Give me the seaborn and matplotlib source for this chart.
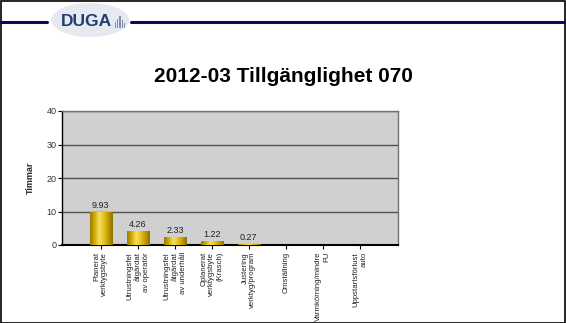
import matplotlib
matplotlib.use("Agg")
import matplotlib.pyplot as plt
import seaborn as sns
import pandas as pd
import numpy as np
from matplotlib.patches import Rectangle, Ellipse
from matplotlib.colors import LinearSegmentedColormap

categories = ["Planerat\nverktygsbyte",
              "Utrustningsfel\nåtgärdat\nav operatör",
              "Utrustningsfel\nåtgärdat\nav underhåll",
              "Oplanerat\nverktygsbyte\n(Krasch)",
              "Justering\nverktyg/program",
              "Omställning",
              "Varmkörning/mindre\nFU",
              "Uppstartsförlust\nauto"]
hours = [9.93, 4.26, 2.33, 1.22, 0.27, 0, 0, 0]
yticks = [0, 10, 20, 30, 40]
title = "2012-03 Tillgänglighet 070"
ylabel = "Timmar"

sns.set_theme(style="white")
plt.rcParams['font.family'] = ['Liberation Sans', 'DejaVu Sans']

W, H = 566, 323
fig = plt.figure(figsize=(W / 100, H / 100), dpi=100)

# border
fig.patches.append(Rectangle((0.5 / W, 0.5 / H), 1 - 1.5 / W, 1 - 1.5 / H,
                             transform=fig.transFigure, fill=False,
                             edgecolor="black", linewidth=1.2))
# header line
fig.add_artist(plt.Line2D([0, 47 / W], [1 - 22 / H] * 2, color="#0a0a5a", lw=2.2))
fig.add_artist(plt.Line2D([131 / W, 1], [1 - 22 / H] * 2, color="#0a0a5a", lw=2.2))
# logo
fig.patches.append(Ellipse((90 / W, 1 - 20 / H), 78 / W, 34 / H,
                           transform=fig.transFigure, facecolor="#e6eaf0",
                           edgecolor="none"))
fig.text(61 / W, 1 - 22 / H, "DUGA", fontsize=12.5, fontweight="bold",
         color="#1d3f73", va="center", ha="left")
for i, hh in enumerate([6, 9, 12, 8, 5]):
    fig.patches.append(Rectangle(((115 + i * 2.2) / W, (H - 28) / H), 1.1 / W, hh / H,
                                 transform=fig.transFigure, facecolor="#8090a8",
                                 edgecolor="none"))

fig.text(283 / W, 1 - 77 / H, title, fontsize=15, fontweight="bold",
         ha="center", va="center", color="black")

ax = fig.add_axes([62 / W, (H - 245) / H, 336 / W, 134 / H])
df = pd.DataFrame({"cat": categories, "val": hours})
sns.barplot(data=df, x="cat", y="val", ax=ax, color="#CDAA10", width=0.6,
            saturation=1, edgecolor="none", linewidth=0, zorder=3)
ax.set_facecolor("#D0D0D0")

# cylinder-like gradient on bars
cmap = LinearSegmentedColormap.from_list(
    "gold", ["#9a7c00", "#d0ac08", "#f5e060", "#e6c420", "#c09c00", "#8c7000"])
grad = np.linspace(0, 1, 64).reshape(1, -1)
for p in list(ax.patches):
    x0, y0 = p.get_x(), p.get_y()
    w, h = p.get_width(), p.get_height()
    if h <= 0:
        continue
    im = ax.imshow(grad, cmap=cmap, aspect="auto",
                   extent=[x0, x0 + w, y0, y0 + h], zorder=4)
    im.set_clip_path(p)
ax.set_xlim(-1.05, 8.03)
ax.set_ylim(0, 40)

ax.set_yticks(yticks)
ax.set_yticklabels([str(t) for t in yticks], fontsize=6.5, color="#333333")
ax.yaxis.grid(True, color="#505050", linewidth=1.0, zorder=1)
ax.set_axisbelow(True)
ax.tick_params(axis="y", length=3, width=0.8, color="black", pad=1, left=True)
ax.tick_params(axis="x", length=3, width=0.8, color="black", pad=2, bottom=True)
ax.set_xticks(range(len(categories)))
ax.set_xticklabels(categories, rotation=90, fontsize=5.6, ha="center",
                   va="top", multialignment="right", color="#222222")
for s in ["top", "right"]:
    ax.spines[s].set_color("#707070")
    ax.spines[s].set_linewidth(1)
ax.spines["left"].set_color("black")
ax.spines["left"].set_linewidth(1)
ax.spines["bottom"].set_color("black")
ax.spines["bottom"].set_linewidth(1.5)
ax.set_xlabel("")
ax.set_ylabel(ylabel, fontsize=6.5, fontweight="bold", labelpad=8)

for i, v in enumerate(hours):
    if v > 0:
        ax.text(i, v + 0.6, f"{v:.2f}", ha="center", va="bottom", fontsize=6.5,
                color="#222222")

fig.savefig("out.png", dpi=100, facecolor="white")
